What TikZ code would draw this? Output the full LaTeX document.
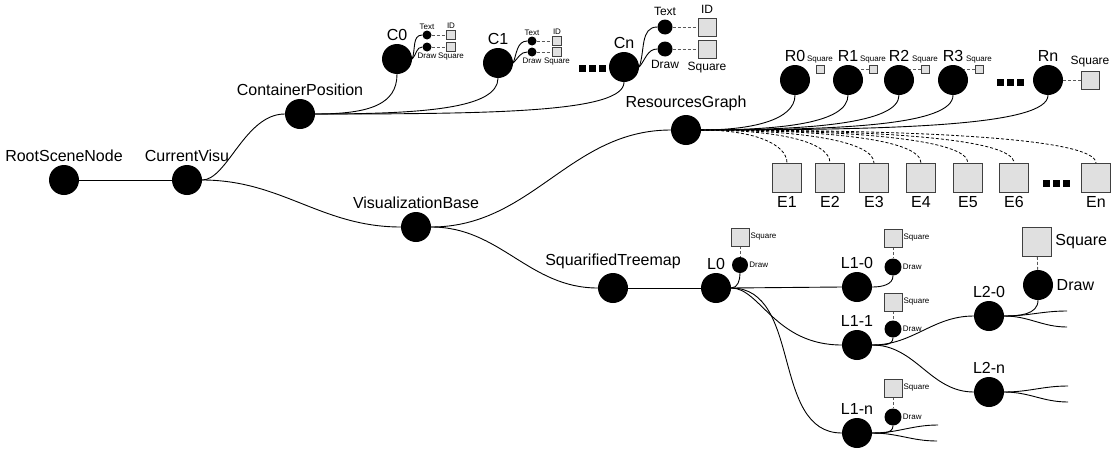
\documentclass[tikz,border=0pt]{standalone}
\usepackage{fontspec}
\setmainfont{Liberation Sans}
\usetikzlibrary{backgrounds}
\newcommand{\blockdots}{\rule{7pt}{7pt}\hspace{3pt}\rule{7pt}{7pt}\hspace{3pt}\rule{7pt}{7pt}}

\begin{document}
\begin{tikzpicture}[x=1pt,y=1pt,
  blob/.style={circle,fill=black,minimum size=30,inner sep=0pt},
  knob/.style={circle,fill=black,minimum size=#1,inner sep=0pt},
  tile/.style={draw=black!75,fill=black!12,minimum size=#1,inner sep=0pt,line width=0.8pt},
  entry/.style={tile=29,label distance=8pt},
  link/.style={line width=0.9pt},
  hint/.style={densely dashed,black!65,line width=0.8pt},
  every label/.style={font=\fontsize{16}{18}\selectfont},
  smalltxt/.style={font=\fontsize{8}{9}\selectfont,inner sep=1pt},
  midtxt/.style={font=\fontsize{12}{14}\selectfont,inner sep=3.5pt}]
  \useasboundingbox (0,0) rectangle (1116,-450);

  % main spine
  \node[blob,label=above:RootSceneNode] (root) at (64,-180) {};
  \node[blob,label=above:CurrentVisu] (visu) at (187,-180) {};
  \node[blob,label=above:ContainerPosition] (cpos) at (300,-114) {};
  \node[blob,label=above:VisualizationBase] (vb) at (416,-227) {};
  \node[blob,label=above:ResourcesGraph] (rg) at (686,-130) {};
  \node[blob,label=above:SquarifiedTreemap] (st) at (613,-288) {};

  % containers
  \node[blob,label=above:C0] (c0) at (397,-59) {};
  \node[knob=9,label={[smalltxt]above:Text}] (c0text) at (427,-35) {};
  \node[knob=9,label={[smalltxt]below:Draw}] (c0draw) at (427,-47) {};
  \node[tile=9,label={[smalltxt]above:ID}] (c0id) at (451,-35) {};
  \node[tile=9,label={[smalltxt]below:Square}] (c0sq) at (451,-47) {};
  \node[blob,label=above:C1] (c1) at (498,-63) {};
  \node[knob=9,label={[smalltxt]above:Text}] (c1text) at (532,-41) {};
  \node[knob=9,label={[smalltxt]below:Draw}] (c1draw) at (532,-52) {};
  \node[tile=9,label={[smalltxt]above:ID}] (c1id) at (557,-41) {};
  \node[tile=9,label={[smalltxt]below:Square}] (c1sq) at (557,-52) {};
  \node[inner sep=0pt] (cdots) at (592,-68) {\blockdots};
  \node[blob,label=above:Cn] (cn) at (624,-67) {};
  \node[knob=15,label={[midtxt]above:Text}] (cntext) at (665,-27) {};
  \node[knob=15,label={[midtxt]below:Draw}] (cndraw) at (665,-49) {};
  \node[tile=18,label={[midtxt]above:ID}] (cnid) at (707,-27) {};
  \node[tile=18,label={[midtxt]below:Square}] (cnsq) at (707,-49) {};

  % resources
  \node[blob,label=above:R0] (r0) at (795,-80) {};
  \node[tile=8,label={[smalltxt]above:Square}] (r0sq) at (820,-69) {};
  \node[blob,label=above:R1] (r1) at (848,-80) {};
  \node[tile=8,label={[smalltxt]above:Square}] (r1sq) at (873,-69) {};
  \node[blob,label=above:R2] (r2) at (899,-80) {};
  \node[tile=8,label={[smalltxt]above:Square}] (r2sq) at (925,-69) {};
  \node[blob,label=above:R3] (r3) at (953,-80) {};
  \node[tile=8,label={[smalltxt]above:Square}] (r3sq) at (979,-69) {};
  \node[inner sep=0pt] (rdots) at (1010,-82) {\blockdots};
  \node[blob,label=above:Rn] (rn) at (1048,-80) {};
  \node[tile=18,label={[midtxt]above:Square}] (rnsq) at (1090,-80) {};

  \node[entry,label=below:E1] (e1) at (787,-178) {};
  \node[entry,label=below:E2] (e2) at (830,-178) {};
  \node[entry,label=below:E3] (e3) at (874,-178) {};
  \node[entry,label=below:E4] (e4) at (921,-178) {};
  \node[entry,label=below:E5] (e5) at (968,-178) {};
  \node[entry,label=below:E6] (e6) at (1014,-178) {};
  \node[inner sep=0pt] (edots) at (1056,-183) {\blockdots};
  \node[entry,label=below:En] (en) at (1096,-178) {};

  % treemap levels
  \node[blob,label=above:L0] (l0) at (716,-288) {};
  \node[knob=16,label={[smalltxt]right:Draw}] (l0d) at (740,-265) {};
  \node[tile=18,label={[smalltxt]right:Square}] (l0sq) at (740,-237) {};
  \node[blob,label=above:L1-0] (l10) at (857,-287) {};
  \node[knob=17,label={[smalltxt]right:Draw}] (l10d) at (893,-267) {};
  \node[tile=18,label={[smalltxt]right:Square}] (l10sq) at (893,-238) {};
  \node[blob,label=above:L1-1] (l11) at (857,-345) {};
  \node[knob=17,label={[smalltxt]right:Draw}] (l11d) at (893,-329) {};
  \node[tile=18,label={[smalltxt]right:Square}] (l11sq) at (893,-302) {};
  \node[blob,label=above:L1-n] (l1n) at (857,-433) {};
  \node[knob=17,label={[smalltxt]right:Draw}] (l1nd) at (893,-417) {};
  \node[tile=18,label={[smalltxt]right:Square}] (l1nsq) at (893,-388) {};
  \node[blob,label=above:L2-0] (l20) at (989,-316) {};
  \node[blob,label=right:Draw] (l20d) at (1038,-285) {};
  \node[tile=29,label=right:Square] (l20sq) at (1037,-242) {};
  \node[blob,label=above:L2-n] (l2n) at (989,-392) {};

  \coordinate (l20up) at (1067,-311);
  \coordinate (l20dn) at (1067,-327);
  \coordinate (l2nup) at (1068,-386);
  \coordinate (l2ndn) at (1068,-402);
  \coordinate (l1nup) at (938,-425);
  \coordinate (l1ndn) at (937,-441);

  \begin{scope}[on background layer]
    \draw[link] (root) -- (visu);
    \draw[link] (visu.east) .. controls +(25,0) and +(-40,0) .. (cpos.west);
    \draw[link] (visu.east) to[out=0,in=180] (vb.west);
    \draw[link] (vb.east) to[out=0,in=180] (rg.west);
    \draw[link] (vb.east) to[out=0,in=180] (st.west);
    \draw[link] (st) -- (l0);

    \draw[link] (cpos.east) .. controls +(55,0) and +(0,-30) .. (c0.south);
    \draw[link] (cpos.east) .. controls +(110,0) and +(0,-30) .. (c1.south);
    \draw[link] (cpos.east) .. controls +(180,0) and +(0,-30) .. (cn.south);
    \draw[link] (c0.east) to[out=70,in=180] (c0text.west);
    \draw[link] (c0.east) to[out=45,in=180] (c0draw.west);
    \draw[link] (c1.east) to[out=70,in=180] (c1text.west);
    \draw[link] (c1.east) to[out=45,in=180] (c1draw.west);
    \draw[link] (cn.east) to[out=70,in=180] (cntext.west);
    \draw[link] (cn.east) to[out=50,in=180] (cndraw.west);
    \draw[hint] (c0text) -- (c0id);
    \draw[hint] (c0draw) -- (c0sq);
    \draw[hint] (c1text) -- (c1id);
    \draw[hint] (c1draw) -- (c1sq);
    \draw[hint] (cntext) -- (cnid);
    \draw[hint] (cndraw) -- (cnsq);

    \draw[link] (rg.east) .. controls +(50,0) and +(0,-25) .. (r0.south);
    \draw[link] (rg.east) .. controls +(80,0) and +(0,-28) .. (r1.south);
    \draw[link] (rg.east) .. controls +(110,0) and +(0,-28) .. (r2.south);
    \draw[link] (rg.east) .. controls +(140,0) and +(0,-30) .. (r3.south);
    \draw[link] (rg.east) .. controls +(200,0) and +(0,-30) .. (rn.south);
    \draw[hint] (r1sq) -- (r1sq -| r1);
    \draw[hint] (r2sq) -- (r2sq -| r2);
    \draw[hint] (r3sq) -- (r3sq -| r3);
    \draw[hint] (rn) -- (rnsq);

    \draw[hint,black] (rg.east) .. controls +(50,0) and +(0,20) .. (e1.north);
    \draw[hint,black] (rg.east) .. controls +(75,0) and +(0,22) .. (e2.north);
    \draw[hint,black] (rg.east) .. controls +(100,0) and +(0,22) .. (e3.north);
    \draw[hint,black] (rg.east) .. controls +(125,0) and +(0,24) .. (e4.north);
    \draw[hint,black] (rg.east) .. controls +(150,0) and +(0,24) .. (e5.north);
    \draw[hint,black] (rg.east) .. controls +(175,0) and +(0,25) .. (e6.north);
    \draw[hint,black] (rg.east) .. controls +(220,0) and +(0,25) .. (en.north);

    \draw[link] (l0.east) to[out=0,in=-90] (l0d.south);
    \draw[link] (l0.east) -- (l10.west);
    \draw[link] (l0.east) .. controls +(29,0) and +(-67,0) .. (l11.west);
    \draw[link] (l0.east) to[out=0,in=180] (l1n.west);
    \draw[link] (l10.east) to[out=0,in=-90] (l10d.south);
    \draw[link] (l11.east) to[out=0,in=-90] (l11d.south);
    \draw[link] (l1n.east) to[out=0,in=-90] (l1nd.south);
    \draw[link] (l11.east) to[out=0,in=180] (l20.west);
    \draw[link] (l11.east) to[out=0,in=180] (l2n.west);
    \draw[link] (l20.east) to[out=0,in=-90] (l20d.south);
    \draw[hint] (l0sq) -- (l0d);
    \draw[hint] (l10sq) -- (l10d);
    \draw[hint] (l11sq) -- (l11d);
    \draw[hint] (l1nsq) -- (l1nd);
    \draw[hint] (l20sq) -- (l20d);

    \draw[link] (l20.east) to[out=0,in=180] (l20up);
    \draw[link] (l20.east) to[out=0,in=180] (l20dn);
    \draw[link] (l2n.east) to[out=0,in=180] (l2nup);
    \draw[link] (l2n.east) to[out=0,in=180] (l2ndn);
    \draw[link] (l1n.east) to[out=0,in=180] (l1nup);
    \draw[link] (l1n.east) to[out=0,in=180] (l1ndn);
  \end{scope}
\end{tikzpicture}
\end{document}
